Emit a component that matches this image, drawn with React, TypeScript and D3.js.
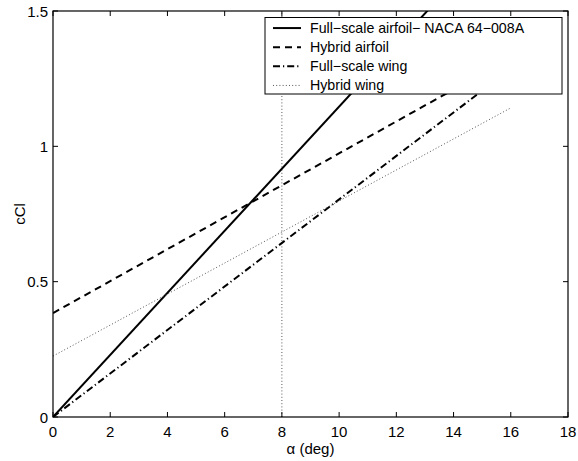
import React from "react";
import * as d3 from "d3";

const alpha = [0, 16];
const fullScaleAirfoil = [0, 1.835];
const hybridAirfoil = [0.384, 1.328];
const fullScaleWing = [0, 1.286];
const hybridWing = [0.225, 1.142];
const markerAlpha = [8, 8];
const markerCl = [0, 1.5];

const xTicks = [0, 2, 4, 6, 8, 10, 12, 14, 16, 18];
const yTicks = [0, 0.5, 1, 1.5];
const yTickLabels = ["0", "0.5", "1", "1.5"];

const seriesNames = [
  "Full\u2212scale airfoil\u2212 NACA 64\u2212008A",
  "Hybrid airfoil",
  "Full\u2212scale wing",
  "Hybrid wing",
];

const W = 578;
const H = 461;
const L = 53, R = 568, T = 11, B = 417;
const FONT = "'Liberation Sans', Arial, Helvetica, sans-serif";

const styles = [
  { w: 2, dash: "none", color: "#000" },
  { w: 2, dash: "7,5", color: "#000" },
  { w: 2, dash: "7,3,1.2,3", color: "#000" },
  { w: 1, dash: "1,2.2", color: "#555" },
];

export default function App() {
  const x = d3.scaleLinear().domain([0, 18]).range([L, R]);
  const y = d3.scaleLinear().domain([0, 1.5]).range([B, T]);
  const line = d3
    .line<[number, number]>()
    .x((d) => x(d[0]))
    .y((d) => y(d[1]));
  const data = [fullScaleAirfoil, hybridAirfoil, fullScaleWing, hybridWing];

  const legX = 265, legY = 17.5, legW = 297, legH = 76.5;
  const rowH = legH / 4;

  return (
    <svg
      width={W}
      height={H}
      style={{ position: "absolute", left: 0, top: 0, background: "#fff" }}
    >
      <defs>
        <clipPath id="plotclip">
          <rect x={L} y={T} width={R - L} height={B - T} />
        </clipPath>
      </defs>
      <rect x={0} y={0} width={W} height={H} fill="#fff" />
      <g clipPath="url(#plotclip)">
        <path
          d={line(markerAlpha.map((a, i) => [a, markerCl[i]]) as [number, number][]) || ""}
          fill="none"
          stroke="#555"
          strokeWidth={1}
          strokeDasharray="1,2.2"
        />
        {data.map((vals, si) => (
          <path
            key={si}
            d={line(alpha.map((a, i) => [a, vals[i]]) as [number, number][]) || ""}
            fill="none"
            stroke={styles[si].color}
            strokeWidth={styles[si].w}
            strokeDasharray={styles[si].dash}
          />
        ))}
      </g>
      <rect x={L} y={T} width={R - L} height={B - T} fill="none" stroke="#000" strokeWidth={1.2} />
      {xTicks.map((t) => (
        <g key={"x" + t}>
          <line x1={x(t)} x2={x(t)} y1={B} y2={B - 5} stroke="#000" strokeWidth={1} />
          <line x1={x(t)} x2={x(t)} y1={T} y2={T + 5} stroke="#000" strokeWidth={1} />
          <text
            x={x(t)}
            y={B + 20}
            textAnchor="middle"
            fontFamily={FONT}
            fontSize={15}
            fill="#000"
          >
            {t}
          </text>
        </g>
      ))}
      {yTicks.map((t, i) => (
        <g key={"y" + t}>
          <line x1={L} x2={L + 5} y1={y(t)} y2={y(t)} stroke="#000" strokeWidth={1} />
          <line x1={R} x2={R - 5} y1={y(t)} y2={y(t)} stroke="#000" strokeWidth={1} />
          <text
            x={L - 5}
            y={y(t) + 5.5}
            textAnchor="end"
            fontFamily={FONT}
            fontSize={15}
            fill="#000"
          >
            {yTickLabels[i]}
          </text>
        </g>
      ))}
      <text
        x={(L + R) / 2}
        y={B + 37}
        textAnchor="middle"
        fontFamily={FONT}
        fontSize={15}
        fill="#000"
      >
        α (deg)
      </text>
      <text
        transform={`translate(${25},${(T + B) / 2}) rotate(-90)`}
        textAnchor="middle"
        fontFamily={FONT}
        fontSize={15}
        fill="#000"
      >
        cCl
      </text>
      <rect x={legX} y={legY} width={legW} height={legH} fill="#fff" stroke="#000" strokeWidth={1} />
      {seriesNames.map((name, i) => {
        const cy = legY + rowH * (i + 0.5) + 1;
        return (
          <g key={name}>
            <line
              x1={legX + 8}
              x2={legX + 36}
              y1={cy}
              y2={cy}
              stroke={styles[i].color}
              strokeWidth={styles[i].w}
              strokeDasharray={styles[i].dash}
            />
            <text x={legX + 45} y={cy + 5} fontFamily={FONT} fontSize={14.2} fill="#000">
              {name}
            </text>
          </g>
        );
      })}
    </svg>
  );
}
